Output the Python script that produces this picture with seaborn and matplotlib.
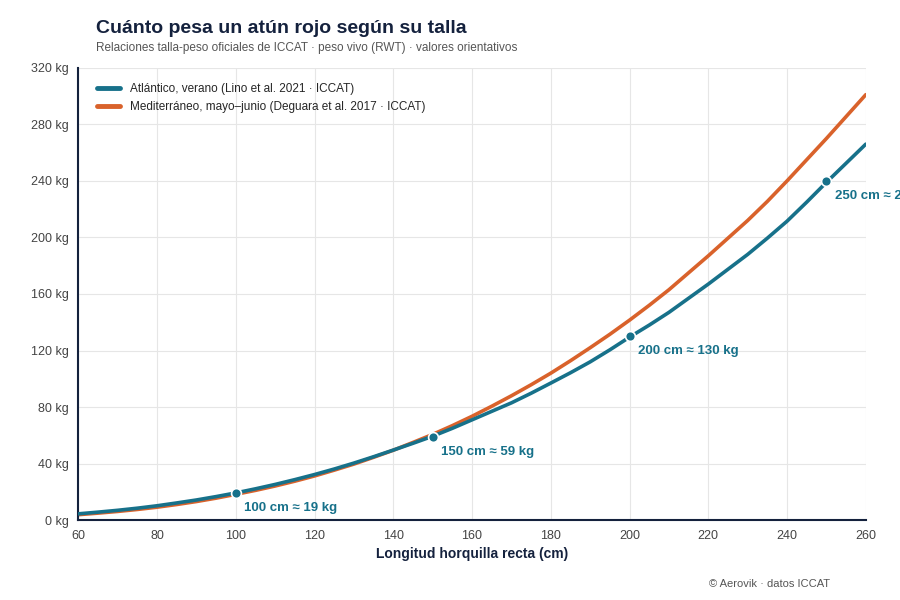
import numpy as np
import pandas as pd
import matplotlib.pyplot as plt
import seaborn as sns

# valores (kg por talla en cm)
tallas = [60, 65, 70, 75, 80, 85, 90, 95, 100, 105, 110, 115, 120, 125, 130, 135, 140, 145, 150,
          155, 160, 165, 170, 175, 180, 185, 190, 195, 200, 205, 210, 215, 220, 225, 230, 235,
          240, 245, 250, 255, 260]
peso_atl = [4.5, 5.7, 7.0, 8.5, 10.2, 12.2, 14.3, 16.7, 19.3, 22.2, 25.3, 28.7, 32.3, 36.2, 40.4,
            44.9, 49.6, 54.4, 59.4, 65.0, 71.0, 77.0, 83.0, 89.8, 97.0, 104.3, 112.0, 120.5,
            129.5, 138.0, 147.0, 157.0, 167.0, 177.5, 188.0, 199.5, 211.5, 225.0, 239.0, 252.5, 266.0]
peso_med = [3.9, 5.0, 6.2, 7.6, 9.2, 11.1, 13.2, 15.6, 18.3, 21.1, 24.2, 27.6, 31.3, 35.4, 39.7,
            44.5, 49.5, 55.0, 60.7, 66.9, 73.5, 80.6, 88.0, 95.8, 104.0, 112.8, 122.0, 131.5,
            141.5, 152.0, 163.0, 175.0, 187.0, 199.5, 212.0, 225.5, 240.0, 255.0, 270.0, 285.5, 301.0]
marcas_cm = [100, 150, 200, 250]
marcas_kg = [19, 59, 130, 240]

azul = "#17718a"
naranja = "#d9622b"
navy = "#14213d"

df = pd.DataFrame({
    "talla": tallas * 2,
    "peso": peso_atl + peso_med,
    "serie": ["Atlántico, verano (Lino et al. 2021 · ICCAT)"] * len(tallas)
             + ["Mediterráneo, mayo–junio (Deguara et al. 2017 · ICCAT)"] * len(tallas),
})

sns.set_theme(style="whitegrid")
plt.rcParams['font.family'] = ['Liberation Sans', 'DejaVu Sans']
fig, ax = plt.subplots(figsize=(9, 6), dpi=100)
fig.subplots_adjust(left=0.087, right=0.962, top=0.887, bottom=0.133)

sns.lineplot(data=df, x="talla", y="peso", hue="serie", palette=[azul, naranja],
             linewidth=2.6, ax=ax)
ax.lines[0].set_zorder(3)
sns.scatterplot(x=marcas_cm, y=marcas_kg, color=azul, s=50, edgecolor="white",
                linewidth=1.2, zorder=4, ax=ax, legend=False)
for c, k in zip(marcas_cm, marcas_kg):
    ax.annotate(f"{c} cm ≈ {k} kg", (c, k), xytext=(6, -13), textcoords="offset points",
                color=azul, fontsize=9.5, fontweight="bold", annotation_clip=False)

ax.set_xlim(60, 260)
ax.set_ylim(0, 320)
ax.set_xticks(range(60, 261, 20))
ax.set_yticks(range(0, 321, 40))
ax.set_yticklabels([f"{v} kg" for v in range(0, 321, 40)])
ax.tick_params(labelsize=9, colors="#444444", length=0, pad=7)
ax.set_xlabel("Longitud horquilla recta (cm)", fontsize=10, fontweight="bold", color=navy)
ax.set_ylabel("")
ax.grid(color="#e6e6e6", linewidth=0.8)
for s in ["top", "right"]:
    ax.spines[s].set_visible(False)
for s in ["left", "bottom"]:
    ax.spines[s].set_color(navy)
    ax.spines[s].set_linewidth(1.5)

leg = ax.legend(loc="upper left", frameon=False, fontsize=8.5, title=None,
                bbox_to_anchor=(0.01, 0.99))
for l in leg.get_lines():
    l.set_linewidth(3.5)

fig.text(0.107, 0.945, "Cuánto pesa un atún rojo según su talla", fontsize=14,
         fontweight="bold", color=navy)
fig.text(0.107, 0.915, "Relaciones talla-peso oficiales de ICCAT · peso vivo (RWT) · valores orientativos",
         fontsize=8.5, color="#555555")
fig.text(0.922, 0.022, "© Aerovik · datos ICCAT", fontsize=8, color="#555555", ha="right")

fig.savefig("out.png", dpi=100)
